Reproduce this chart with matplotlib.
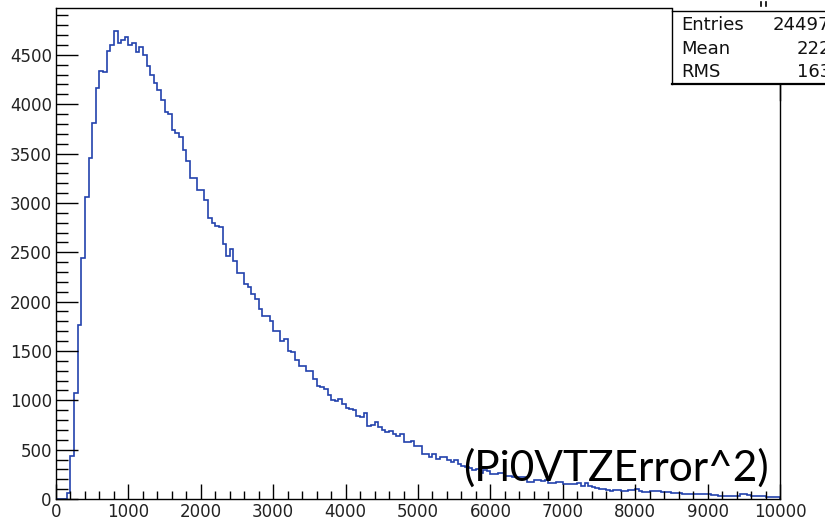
import numpy as np
import matplotlib
matplotlib.use("Agg")
import matplotlib.pyplot as plt
from matplotlib.patches import Rectangle
from matplotlib.lines import Line2D

# ---- data (bin contents, 200 bins of width 50 on 0..10000) ----
x_min, x_max, n_bins = 0, 10000, 200
counts = [
    0, 0, 0, 60, 440, 1075, 1768, 2438, 3065, 3460,
    3806, 4160, 4340, 4330, 4540, 4595, 4737, 4619, 4649, 4686,
    4595, 4619, 4530, 4581, 4503, 4385, 4300, 4212, 4144, 4043,
    3921, 3900, 3740, 3705, 3672, 3540, 3423, 3252, 3252, 3130,
    3130, 3030, 2845, 2794, 2770, 2753, 2584, 2465, 2530, 2411,
    2286, 2286, 2175, 2150, 2073, 2025, 1924, 1853, 1853, 1805,
    1704, 1704, 1600, 1625, 1501, 1491, 1406, 1348, 1348, 1298,
    1298, 1220, 1145, 1132, 1119, 1051, 1007, 990, 1017, 966,
    926, 912, 898, 845, 827, 871, 739, 753, 780, 729,
    703, 678, 688, 662, 635, 662, 577, 577, 587, 533,
    533, 455, 455, 425, 452, 401, 425, 425, 398, 374,
    398, 357, 330, 323, 318, 289, 306, 262, 289, 285,
    256, 256, 265, 262, 238, 238, 221, 221, 225, 218,
    175, 171, 188, 188, 185, 188, 160, 162, 171, 171,
    154, 154, 150, 154, 160, 127, 160, 127, 125, 110,
    104, 100, 88, 86, 95, 92, 80, 82, 92, 90,
    100, 78, 72, 70, 80, 78, 80, 69, 68, 69,
    59, 60, 58, 53, 55, 53, 52, 54, 48, 50,
    47, 38, 36, 34, 32, 30, 33, 30, 31, 48,
    46, 40, 32, 30, 31, 30, 20, 18, 18, 17,
]
y_max = 4980
stat_names = ["Entries", "Mean", "RMS"]
stat_values = ["24497", "222", "163"]
overlay_label = "(Pi0VTZError^2)"

W, H = 825, 522
fig = plt.figure(figsize=(W / 100, H / 100), dpi=100)

def fx(px):
    return px / W

def fy(py):
    return 1 - py / H

ax = fig.add_axes([fx(56), fy(499), fx(780) - fx(56), fy(7.5) - fy(499)])
edges = np.linspace(x_min, x_max, n_bins + 1)
ax.stairs(counts, edges, color="#2242ad", lw=1.2)
ax.set_xlim(x_min, x_max)
ax.set_ylim(0, y_max)

for s in ax.spines.values():
    s.set_linewidth(1.0)
    s.set_color("black")

ax.set_xticks(np.arange(0, 10001, 1000))
ax.set_xticks(np.arange(0, 10001, 200), minor=True)
ax.set_yticks(np.arange(0, 4501, 500))
ax.set_yticks(np.arange(0, 4981, 100), minor=True)
ax.tick_params(axis="both", which="both", direction="in", top=False, right=False,
               width=1.0, colors="black", labelsize=12)
ax.tick_params(axis="x", which="major", length=10.8, pad=2.6)
ax.tick_params(axis="x", which="minor", length=5.8)
ax.tick_params(axis="y", which="major", length=15.8, pad=3)
ax.tick_params(axis="y", which="minor", length=8.6)
for lab in ax.get_xticklabels() + ax.get_yticklabels():
    lab.set_fontfamily("DejaVu Sans")
    lab.set_color("#222222")

# ---- stats box (clipped by the image edge) ----
fig.add_artist(Rectangle((fx(671.5), fy(84)), fx(900) - fx(671.5), fy(0) - fy(84),
                         transform=fig.transFigure, facecolor="white", edgecolor="none",
                         zorder=5))
fig.add_artist(Line2D([fx(671.5), fx(671.5)], [fy(7.5), fy(84)], transform=fig.transFigure,
                      color="black", lw=1.0, zorder=6))
fig.add_artist(Line2D([fx(671.5), fx(830)], [fy(11), fy(11)], transform=fig.transFigure,
                      color="black", lw=1.0, zorder=6))
fig.add_artist(Line2D([fx(671.5), fx(830)], [fy(84), fy(84)], transform=fig.transFigure,
                      color="black", lw=1.6, zorder=6))
fig.add_artist(Line2D([fx(780), fx(780)], [fy(84), fy(100)], transform=fig.transFigure,
                      color="black", lw=1.0, zorder=6))
for name, py in zip(stat_names, [25, 49, 72]):
    fig.text(fx(681), fy(py), name, ha="left", va="center", fontsize=13,
             family="DejaVu Sans", color="#111111", zorder=7)
for val, px, py in zip(stat_values, [773, 797, 797], [25, 49, 72]):
    fig.text(fx(px), fy(py), val, ha="left", va="center", fontsize=13,
             family="DejaVu Sans", color="#111111", zorder=7)
# tiny fragment of a clipped title above the box
fig.add_artist(Line2D([fx(761), fx(761)], [fy(2), fy(6)], transform=fig.transFigure,
                      color="black", lw=1.2, zorder=6))
fig.add_artist(Line2D([fx(766), fx(766)], [fy(2), fy(6)], transform=fig.transFigure,
                      color="black", lw=1.2, zorder=6))

# ---- overlay label ----
fig.text(fx(463), fy(481), overlay_label, ha="left", va="baseline", fontsize=30.5,
         family=["Lato", "DejaVu Sans"], color="black", zorder=8)

fig.savefig("out.png", dpi=100)
